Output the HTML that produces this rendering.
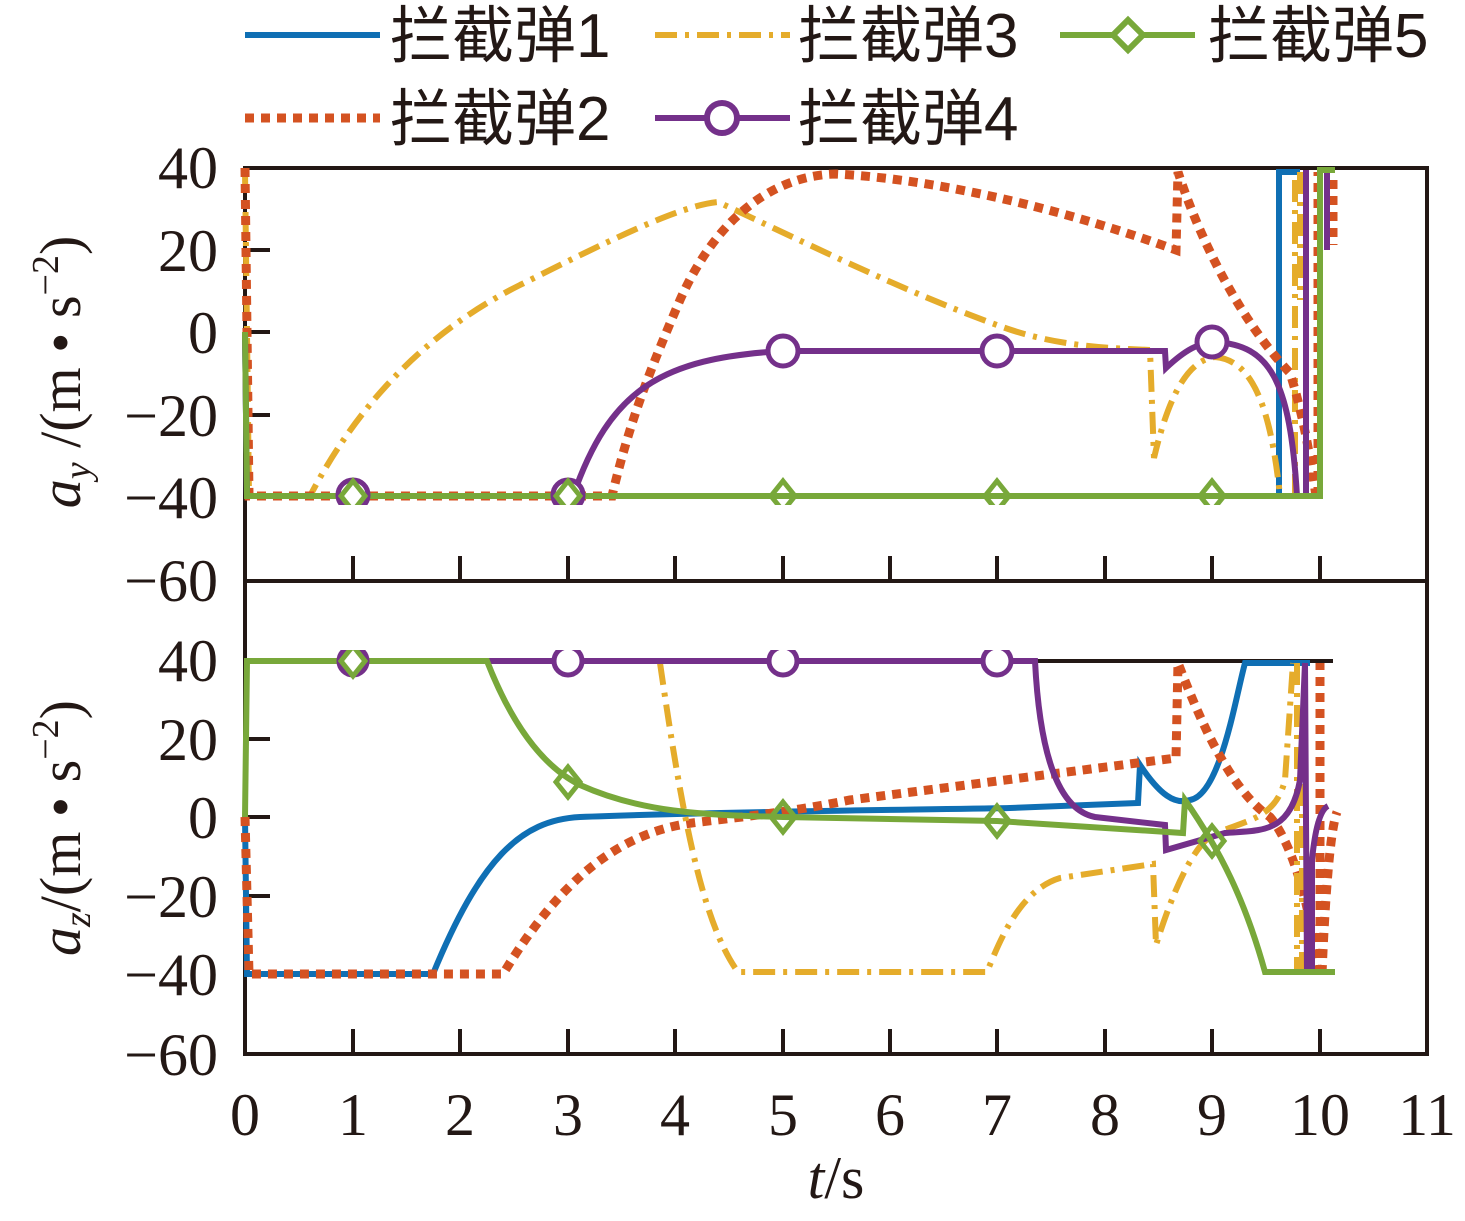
<!DOCTYPE html>
<html><head><meta charset="utf-8"><style>
html,body{margin:0;padding:0;background:#fff}
svg{display:block}
text{font-family:"Liberation Serif","Noto Serif CJK SC",serif;fill:#231815}
.lg{font-family:"Liberation Sans","Noto Sans CJK SC",sans-serif;font-size:62px}
</style></head><body>
<svg width="1465" height="1221" viewBox="0 0 1465 1221" xmlns="http://www.w3.org/2000/svg">
<defs>
<clipPath id="ct"><rect x="240" y="160" width="1190" height="345"/></clipPath>
<clipPath id="cb"><rect x="240" y="650" width="1190" height="330"/></clipPath>
</defs>
<!-- legend -->
<g stroke-width="6" fill="none">
<line x1="245" y1="35" x2="380" y2="35" stroke="#0f6fb4"/>
<line x1="655" y1="35" x2="790" y2="35" stroke="#e5ac2b" stroke-dasharray="22,8,4,8"/>
<line x1="1060" y1="35" x2="1195" y2="35" stroke="#78a83a"/>
<path d="M1128,20 L1143,35 L1128,50 L1113,35Z" stroke="#78a83a" fill="#fff"/>
<line x1="245" y1="118" x2="380" y2="118" stroke="#d45221" stroke-width="9" stroke-dasharray="9,7"/>
<line x1="655" y1="118" x2="790" y2="118" stroke="#74308a"/>
<circle cx="722" cy="118" r="15" stroke="#74308a" fill="#fff"/>
</g>
<text class="lg" x="390" y="57">拦截弹1</text>
<text class="lg" x="798" y="57">拦截弹3</text>
<text class="lg" x="1208" y="57">拦截弹5</text>
<text class="lg" x="390" y="140">拦截弹2</text>
<text class="lg" x="798" y="140">拦截弹4</text>

<!-- axes frames -->
<g stroke="#231815" stroke-width="4" fill="none">
<line x1="245" y1="168" x2="1427" y2="168"/>
<line x1="1427" y1="166" x2="1427" y2="1056"/>
<line x1="245" y1="166" x2="245" y2="1056"/>
<line x1="245" y1="581" x2="1427" y2="581"/>
<line x1="245" y1="1054" x2="1427" y2="1054"/>
<line x1="245" y1="661" x2="1333" y2="661"/>
<path d="M245,250h25M245,332h25M245,415h25M245,497h25"/>
<path d="M245,739h25M245,817h25M245,896h25M245,974h25"/>
<path d="M353,581v-25M460,581v-25M568,581v-25M675,581v-25M783,581v-25M890,581v-25M997,581v-25M1105,581v-25M1212,581v-25M1320,581v-25"/>
<path d="M353,1054v-25M460,1054v-25M568,1054v-25M675,1054v-25M783,1054v-25M890,1054v-25M997,1054v-25M1105,1054v-25M1212,1054v-25M1320,1054v-25"/>
</g>

<!-- tick labels -->
<g font-size="60" text-anchor="end">
<text x="218" y="188">40</text>
<text x="218" y="271">20</text>
<text x="218" y="353">0</text>
<text x="218" y="436">−20</text>
<text x="218" y="518">−40</text>
<text x="218" y="601">−60</text>
<text x="218" y="681">40</text>
<text x="218" y="760">20</text>
<text x="218" y="838">0</text>
<text x="218" y="917">−20</text>
<text x="218" y="995">−40</text>
<text x="218" y="1075">−60</text>
</g>
<g font-size="60" text-anchor="middle">
<text x="245" y="1135">0</text><text x="353" y="1135">1</text><text x="460" y="1135">2</text>
<text x="568" y="1135">3</text><text x="675" y="1135">4</text><text x="783" y="1135">5</text>
<text x="890" y="1135">6</text><text x="997" y="1135">7</text><text x="1105" y="1135">8</text>
<text x="1212" y="1135">9</text><text x="1320" y="1135">10</text><text x="1427" y="1135">11</text>
<text x="836" y="1198"><tspan font-style="italic">t</tspan>/s</text>
</g>
<text font-size="58" text-anchor="middle" transform="translate(80,372) rotate(-90)"><tspan font-style="italic">a</tspan><tspan font-style="italic" font-size="38" dy="10">y</tspan><tspan dy="-10"> /(m • s</tspan><tspan font-size="38" dy="-22">−2</tspan><tspan dy="22">)</tspan></text>
<text font-size="58" text-anchor="middle" transform="translate(80,828) rotate(-90)"><tspan font-style="italic">a</tspan><tspan font-style="italic" font-size="38" dy="10">z</tspan><tspan dy="-10">/(m • s</tspan><tspan font-size="38" dy="-22">−2</tspan><tspan dy="22">)</tspan></text>

<!-- TOP PLOT -->
<g clip-path="url(#ct)" fill="none" stroke-width="6">
<path stroke="#0f6fb4" d="M245,332 L247,496 L1279,496 L1279,172 L1300,172"/>
<path stroke="#e5ac2b" stroke-dasharray="22,8,4,8" d="M245,170 L249,496 L310,496 C360,400 430,330 520,285 C600,245 680,205 718,202 C800,240 900,290 997,325 C1050,345 1100,348 1150,350 L1154,458 C1170,390 1190,360 1215,357 C1250,360 1270,400 1280,496 M1295,496 L1295,172 M1300,172 L1300,300"/>
<path stroke="#d45221" stroke-width="9" stroke-dasharray="9,7" d="M245,168 L249,496 L612,496 C630,420 650,370 680,300 C720,210 780,175 836,174 C950,180 1080,215 1176,250 L1178,172 C1200,240 1240,320 1290,373 C1305,420 1312,470 1316,496 M1318,496 L1318,172 M1333,180 L1333,245"/>
<path stroke="#74308a" d="M245,332 L247,496 L573,496 C610,390 660,358 783,351 L1165,351 L1166,368 C1185,350 1200,342 1215,342 C1270,345 1290,380 1297,496 M1306,496 L1306,170 M1327,170 L1327,250"/>
<path stroke="#78a83a" d="M245,332 L247,496 L1320,496 L1320,170 L1335,170"/>
<g stroke="#74308a" fill="#fff" stroke-width="5"><circle cx="353" cy="495" r="15"/><circle cx="568" cy="495" r="15"/><circle cx="783" cy="351" r="15"/><circle cx="997" cy="351" r="15"/><circle cx="1212" cy="342" r="15"/></g>
<g stroke="#78a83a" fill="none" stroke-width="5"><path d="M353,481l12,15l-12,15l-12,-15z M568,481l12,15l-12,15l-12,-15z M783,481l12,15l-12,15l-12,-15z M997,481l12,15l-12,15l-12,-15z M1212,481l12,15l-12,15l-12,-15z"/></g>
</g>

<!-- BOTTOM PLOT -->
<g clip-path="url(#cb)" fill="none" stroke-width="6">
<path stroke="#0f6fb4" d="M245,817 L247,974 L433,974 C480,860 520,820 580,817 C700,812 900,810 1010,808 L1138,803 L1140,765 C1160,795 1175,805 1190,800 C1220,795 1235,700 1245,663 L1310,663"/>
<path stroke="#d45221" stroke-width="9" stroke-dasharray="9,7" d="M245,817 L249,974 L503,974 C560,880 620,830 700,822 C760,815 800,810 850,800 L1176,758 L1178,663 C1200,720 1230,790 1270,817 C1290,840 1310,900 1318,974 M1320,974 L1320,663 M1322,974 C1325,900 1330,830 1337,812"/>
<path stroke="#e5ac2b" stroke-dasharray="22,8,4,8" d="M660,663 C680,800 700,920 738,972 L987,972 C1000,940 1020,890 1060,878 L1153,864 L1156,945 C1170,900 1190,850 1212,835 C1245,820 1275,820 1285,780 L1293,663 M1297,663 L1297,974 M1302,974 L1302,760"/>
<path stroke="#74308a" d="M245,661 L1035,661 C1040,760 1060,810 1095,817 L1165,825 L1166,850 L1225,833 C1260,830 1290,835 1300,780 L1305,663 L1307,974 M1312,974 L1312,860 C1315,830 1320,810 1328,806"/>
<path stroke="#78a83a" d="M245,817 L247,661 L487,661 C510,720 540,765 580,785 C640,812 700,815 783,817 L997,821 L1183,833 L1185,800 C1220,850 1245,900 1265,972 L1335,972"/>
<g stroke="#74308a" fill="#fff" stroke-width="5"><circle cx="353" cy="661" r="14"/><circle cx="568" cy="661" r="14"/><circle cx="783" cy="661" r="14"/><circle cx="997" cy="661" r="14"/></g>
<g stroke="#78a83a" fill="none" stroke-width="5"><path d="M353,646l12,15l-12,15l-12,-15z M568,767l12,15l-12,15l-12,-15z M783,802l12,15l-12,15l-12,-15z M997,806l12,15l-12,15l-12,-15z M1212,826l12,15l-12,15l-12,-15z"/></g>
</g>
</svg>
</body></html>
